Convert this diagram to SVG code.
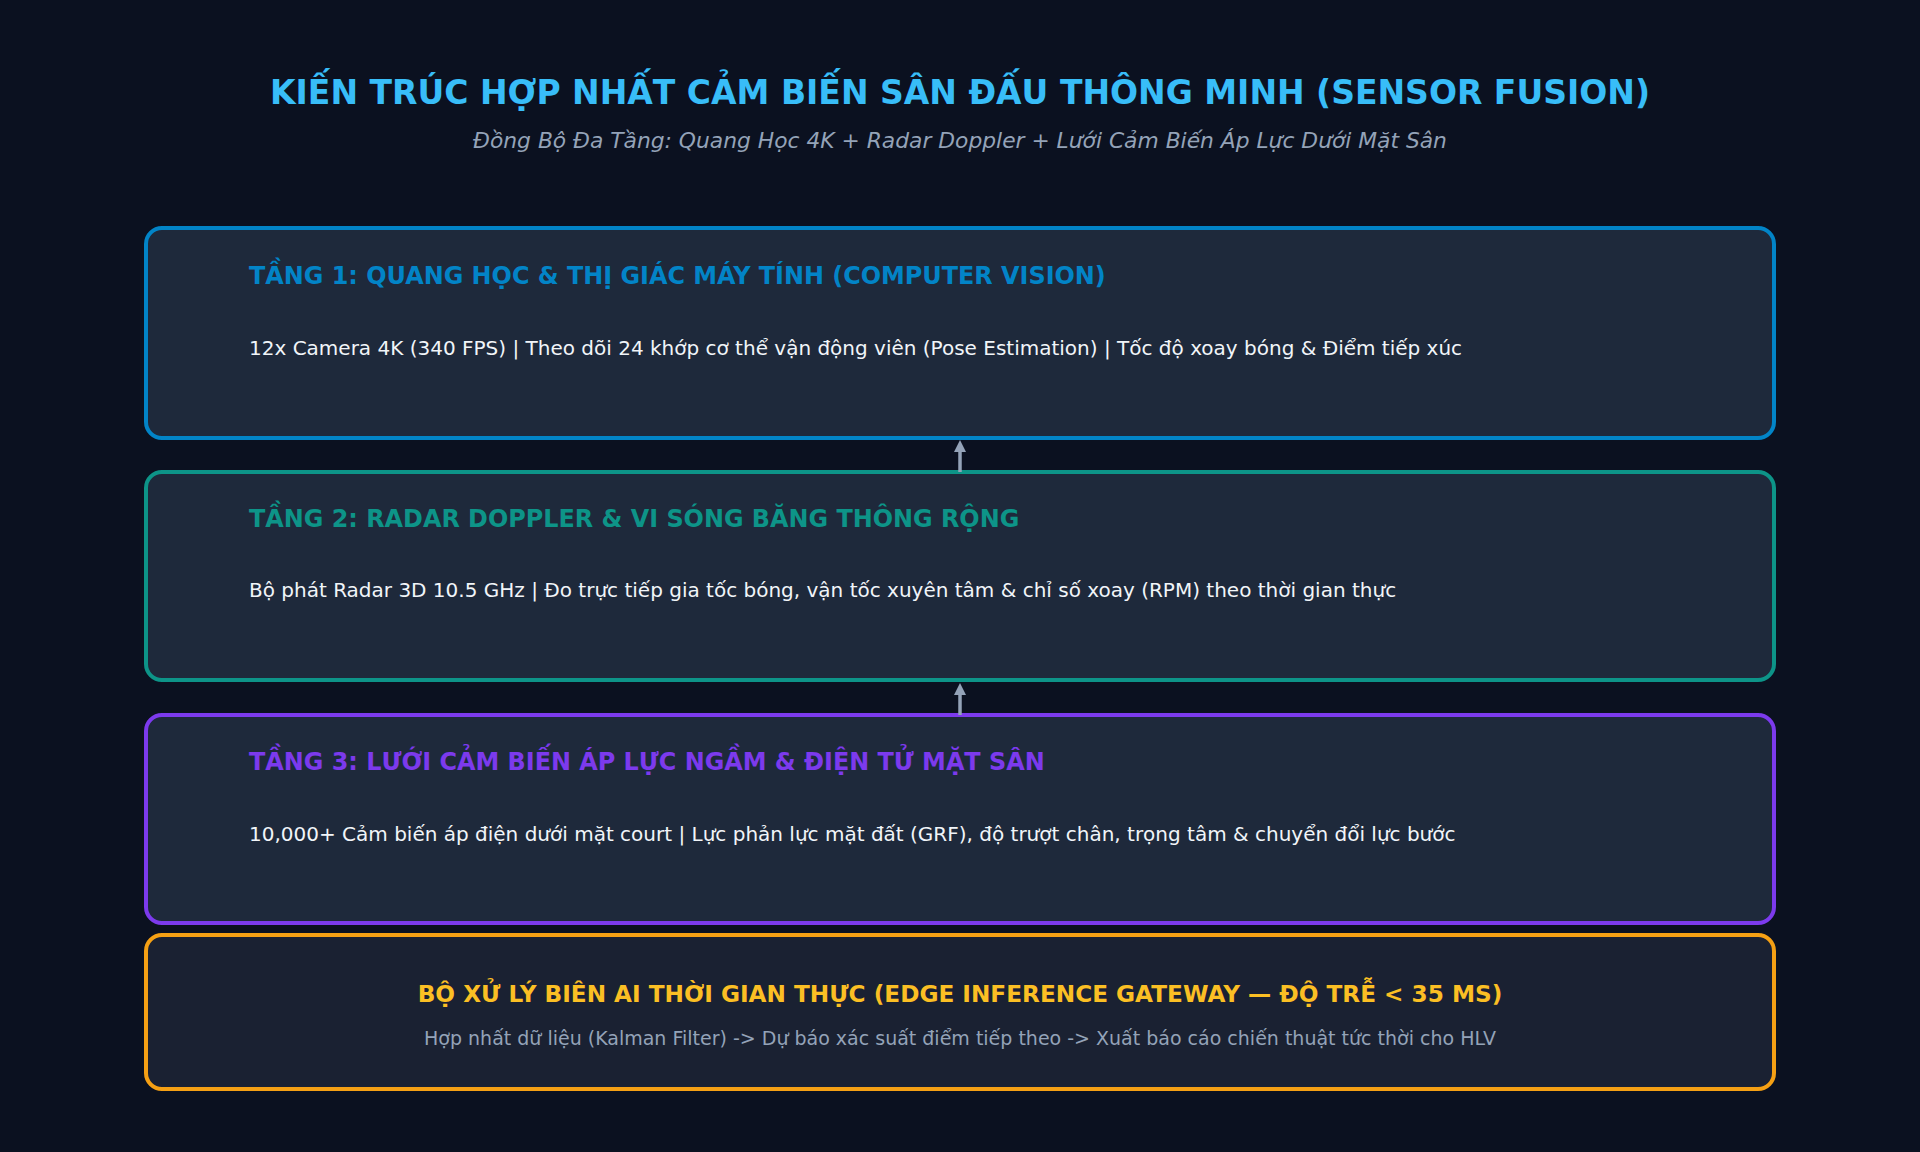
<svg xmlns="http://www.w3.org/2000/svg" width="1920" height="1152" viewBox="0 0 1920 1152">
<style>
text{font-family:"DejaVu Sans","Noto Sans",sans-serif}
.box{fill:#1e293b;stroke-width:4}
.lt{font-size:23.9px;font-weight:bold}
.body{font-size:20px;fill:#f1f5f9}
.conn{stroke:#94a3b8;stroke-width:3.5;fill:none}
</style>
<defs>
<marker id="ah" viewBox="0 0 12 12" markerWidth="12" markerHeight="12" refX="1" refY="6" orient="auto" markerUnits="userSpaceOnUse">
<path d="M0,0 L12,6 L0,12 z" fill="#94a3b8"/>
</marker>
</defs>
<rect width="1920" height="1152" fill="#0b1120"/>
<g id="header">
<text x="960" y="104" text-anchor="middle" font-size="33" font-weight="bold" fill="#38bdf8">KIẾN TRÚC HỢP NHẤT CẢM BIẾN SÂN ĐẤU THÔNG MINH (SENSOR FUSION)</text>
<text x="960" y="148" text-anchor="middle" font-size="21.8" font-style="italic" fill="#94a3b8">Đồng Bộ Đa Tầng: Quang Học 4K + Radar Doppler + Lưới Cảm Biến Áp Lực Dưới Mặt Sân</text>
</g>
<g id="layer1">
<rect class="box" x="146" y="228" width="1628" height="210" rx="16" stroke="#0284c7"/>
<text class="lt" x="249" y="284" fill="#0284c7">TẦNG 1: QUANG HỌC &amp; THỊ GIÁC MÁY TÍNH (COMPUTER VISION)</text>
<text class="body" x="249" y="355">12x Camera 4K (340 FPS) | Theo dõi 24 khớp cơ thể vận động viên (Pose Estimation) | Tốc độ xoay bóng &amp; Điểm tiếp xúc</text>
</g>
<g id="layer2">
<rect class="box" x="146" y="472" width="1628" height="208" rx="16" stroke="#0d9488"/>
<text class="lt" x="249" y="527" fill="#0d9488">TẦNG 2: RADAR DOPPLER &amp; VI SÓNG BĂNG THÔNG RỘNG</text>
<text class="body" x="249" y="597">Bộ phát Radar 3D 10.5 GHz | Đo trực tiếp gia tốc bóng, vận tốc xuyên tâm &amp; chỉ số xoay (RPM) theo thời gian thực</text>
</g>
<g id="layer3">
<rect class="box" x="146" y="715" width="1628" height="208" rx="16" stroke="#7c3aed"/>
<text class="lt" x="249" y="770" fill="#7c3aed">TẦNG 3: LƯỚI CẢM BIẾN ÁP LỰC NGẦM &amp; ĐIỆN TỬ MẶT SÂN</text>
<text class="body" x="249" y="841">10,000+ Cảm biến áp điện dưới mặt court | Lực phản lực mặt đất (GRF), độ trượt chân, trọng tâm &amp; chuyển đổi lực bước</text>
</g>
<g id="edge">
<rect x="146" y="935" width="1628" height="154" rx="16" fill="#1a2132" stroke="#f5a014" stroke-width="4"/>
<text x="960" y="1002" text-anchor="middle" font-size="23.2" font-weight="bold" fill="#fbbf24">BỘ XỬ LÝ BIÊN AI THỜI GIAN THỰC (EDGE INFERENCE GATEWAY — ĐỘ TRỄ &lt; 35 MS)</text>
<text x="960" y="1045" text-anchor="middle" font-size="19" fill="#94a3b8">Hợp nhất dữ liệu (Kalman Filter) -&gt; Dự báo xác suất điểm tiếp theo -&gt; Xuất báo cáo chiến thuật tức thời cho HLV</text>
</g>
<g id="connectors">
<line class="conn" x1="960" y1="472" x2="960" y2="451" marker-end="url(#ah)"/>
<line class="conn" x1="960" y1="715" x2="960" y2="694" marker-end="url(#ah)"/>
</g>
</svg>
